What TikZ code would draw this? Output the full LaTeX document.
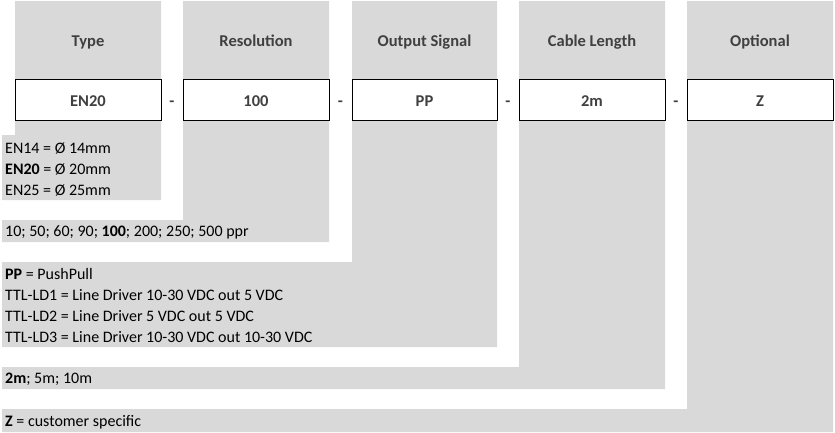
\documentclass[tikz,border=0pt]{standalone}
\usepackage{fontspec}
\setmainfont{Carlito}
\definecolor{cellgray}{HTML}{D9D9D9}
\definecolor{headtext}{HTML}{404040}
\tikzset{
  x=1pt,y=-1pt,
  cell/.style={fill=cellgray,draw=none},
  head/.style={font=\fontsize{16.5}{19}\selectfont\bfseries,text=headtext,anchor=base,inner sep=0pt},
  valbox/.style={draw=black,line width=1pt,fill=white},
  val/.style={font=\fontsize{16.5}{19}\selectfont\bfseries,text=headtext,anchor=base,inner sep=0pt},
  sep/.style={font=\fontsize{16.5}{19}\selectfont\bfseries,text=headtext,anchor=base,inner sep=0pt},
  body/.style={font=\fontsize{16}{19}\selectfont,text=black,anchor=base west,inner sep=0pt}
}
\begin{document}
\begin{tikzpicture}
\path[use as bounding box,fill=white] (0,0) rectangle (835,432);
% gray columns with their left extensions
\fill[cell] (15,1) -- (161,1) -- (161,200) -- (2,200) -- (2,135) -- (15,135) -- cycle;
\fill[cell] (183,1) -- (329,1) -- (329,242) -- (2,242) -- (2,220) -- (183,220) -- cycle;
\fill[cell] (352,1) -- (497,1) -- (497,347) -- (2,347) -- (2,262) -- (352,262) -- cycle;
\fill[cell] (519,1) -- (665,1) -- (665,389) -- (2,389) -- (2,367) -- (519,367) -- cycle;
\fill[cell] (687,1) -- (833,1) -- (833,432) -- (2,432) -- (2,409) -- (687,409) -- cycle;
% headers
\node[head] (h1) at (88,46.5) {Type};
\node[head] (h2) at (256,46.5) {Resolution};
\node[head] (h3) at (424.5,46.5) {Output Signal};
\node[head] (h4) at (592,46.5) {Cable Length};
\node[head] (h5) at (760,46.5) {Optional};
% value boxes
\draw[valbox] (15,79) rectangle (161,120);
\draw[valbox] (183,79) rectangle (329,120);
\draw[valbox] (352,79) rectangle (497,120);
\draw[valbox] (519,79) rectangle (665,120);
\draw[valbox] (687,79) rectangle (833,120);
\node[val] (v1) at (88,106.5) {EN20};
\node[val] (v2) at (256,106.5) {100};
\node[val] (v3) at (424.5,106.5) {PP};
\node[val] (v4) at (592,106.5) {2m};
\node[val] (v5) at (760,106.5) {Z};
\node[sep] (d1) at (172,106.5) {-};
\node[sep] (d2) at (340.5,106.5) {-};
\node[sep] (d3) at (508,106.5) {-};
\node[sep] (d4) at (676,106.5) {-};
% option texts
\node[body] (t1) at (5,153) {EN14 = Ø 14mm};
\node[body] (t2) at (5,174.5) {\textbf{EN20} = Ø 20mm};
\node[body] (t3) at (5,195.5) {EN25 = Ø 25mm};
\node[body] (t4) at (5,236.5) {10; 50; 60; 90; \textbf{100}; 200; 250; 500 ppr};
\node[body] (t5) at (5,279) {\textbf{PP} = PushPull};
\node[body] (t6) at (5,300) {TTL-LD1 = Line Driver 10-30 VDC out 5 VDC};
\node[body] (t7) at (5,321) {TTL-LD2 = Line Driver 5 VDC out 5 VDC};
\node[body] (t8) at (5,342) {TTL-LD3 = Line Driver 10-30 VDC out 10-30 VDC};
\node[body] (t9) at (5,383.5) {\textbf{2m}; 5m; 10m};
\node[body] (t10) at (5,426) {\textbf{Z} = customer specific};
\end{tikzpicture}
\end{document}
